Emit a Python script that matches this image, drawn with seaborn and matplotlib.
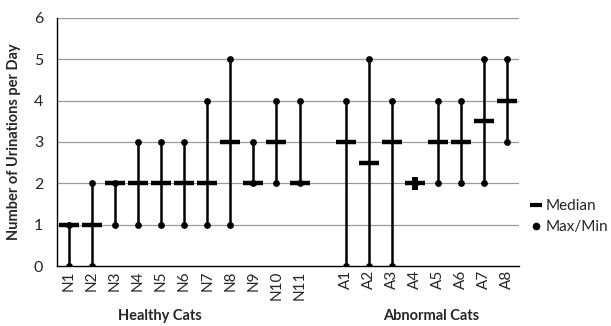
import matplotlib
matplotlib.use("Agg")
import matplotlib.pyplot as plt
from matplotlib.lines import Line2D
import numpy as np
import pandas as pd
import seaborn as sns

# values
healthy = ["N1", "N2", "N3", "N4", "N5", "N6", "N7", "N8", "N9", "N10", "N11"]
healthy_min = [0, 0, 1, 1, 1, 1, 1, 1, 2, 2, 2]
healthy_max = [1, 2, 2, 3, 3, 3, 4, 5, 3, 4, 4]
healthy_med = [1, 1, 2, 2, 2, 2, 2, 3, 2, 3, 2]

abnormal = ["A1", "A2", "A3", "A4", "A5", "A6", "A7", "A8"]
abnormal_min = [0, 0, 0, 2, 2, 2, 2, 3]
abnormal_max = [4, 5, 4, 2, 4, 4, 5, 5]
abnormal_med = [3, 2.5, 3, 2, 3, 3, 3.5, 4]

sns.set_style("white")
plt.rcParams["font.family"] = ["Lato", "DejaVu Sans"]

# one empty slot between the two groups
labels = healthy + [""] + abnormal
pos = list(range(len(healthy))) + [len(healthy) + 1 + i for i in range(len(abnormal))]
df = pd.DataFrame({
    "cat": healthy + abnormal,
    "x": pos,
    "lo": healthy_min + abnormal_min,
    "hi": healthy_max + abnormal_max,
    "med": healthy_med + abnormal_med,
})

fig = plt.figure(figsize=(6.11, 3.26), dpi=100)
ax = fig.add_axes([0.0933, 0.184, 0.756, 0.761])

for v in range(1, 7):
    ax.axhline(v, color="#9a9a9a", lw=0.9, zorder=0)

ax.vlines(df["x"], df["lo"], df["hi"], color="black", lw=1.8, zorder=2)
pts = pd.concat([df[["x", "lo"]].rename(columns={"lo": "y"}),
                 df[["x", "hi"]].rename(columns={"hi": "y"})])
sns.scatterplot(data=pts, x="x", y="y", color="black", s=24, linewidth=0,
                ax=ax, zorder=3, legend=False)
# A4 has min=max: the dots sit just above/below the dash, giving a plus
a4 = df[df["cat"] == "A4"]
ax.vlines(a4["x"], a4["lo"] - 0.16, a4["lo"] + 0.16, color="black", lw=4.2, zorder=3)
ax.plot(df["x"], df["med"], "_", color="black", ms=14, mew=3.2, zorder=4)

ax.set_xlim(-0.5, len(labels) - 0.5)
ax.set_ylim(0, 6)
ax.set_yticks(range(0, 7))
ax.set_xticks(df["x"])
ax.set_xticklabels(df["cat"], rotation=90, fontsize=11)
ax.set_xticks(np.arange(-0.5, len(labels), 1), minor=True)
ax.tick_params(axis="x", which="major", length=0, pad=3)
ax.tick_params(axis="x", which="minor", length=4, width=0.9, color="black", direction="out")
ax.tick_params(axis="y", length=4, width=0.9, color="black", direction="out", labelsize=11.5, pad=6)

for s in ["top", "right"]:
    ax.spines[s].set_visible(False)
for s in ["left", "bottom"]:
    ax.spines[s].set_color("black")
    ax.spines[s].set_linewidth(1.0)

ax.set_xlabel("")
ax.set_ylabel("Number of Urinations per Day", fontsize=10.5, fontweight="bold", labelpad=9)

fig.text(160 / 611, 1 - 316 / 326, "Healthy Cats", ha="center", va="center",
         fontsize=10.5, fontweight="bold")
fig.text(431 / 611, 1 - 316 / 326, "Abnormal Cats", ha="center", va="center",
         fontsize=10.5, fontweight="bold")

handles = [Line2D([], [], marker="_", color="black", ls="", ms=9, mew=3),
           Line2D([], [], marker="o", color="black", ls="", ms=4.5)]
fig.legend(handles, ["Median", "Max/Min"], loc="center left",
           bbox_to_anchor=(0.848, 0.335), frameon=False, fontsize=11,
           handlelength=0.6, handletextpad=0.3, labelspacing=0.45)

fig.savefig("out.png", dpi=100)
